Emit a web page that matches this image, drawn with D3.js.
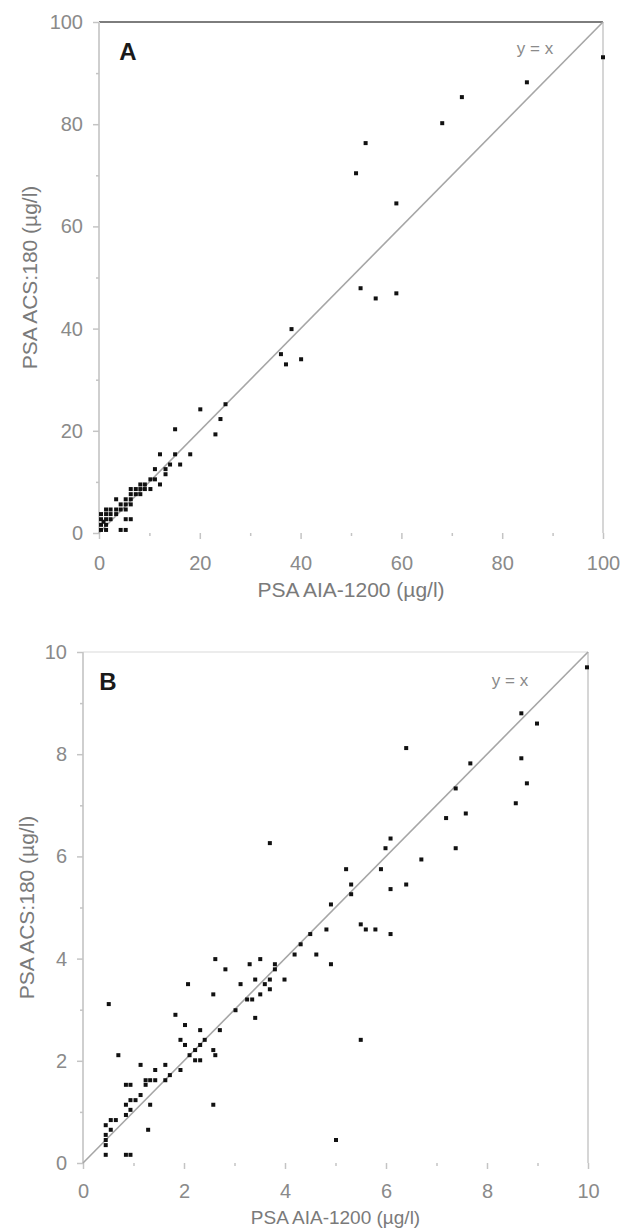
<!DOCTYPE html>
<html>
<head>
<meta charset="utf-8">
<script src="https://cdnjs.cloudflare.com/ajax/libs/d3/7.8.5/d3.min.js"></script>
<style>
    body { margin: 0; background: #fff; }
    svg { display: block; font-family: "Liberation Sans", Arial, sans-serif; }
</style>
</head>
<body>
<svg id="chart" width="620" height="1230"></svg>
<script>
// panel A: PSA 0-100 ug/l
var aX = [100, 84.9, 72.0, 68.1, 52.9, 51.0, 59.0, 51.9, 54.9, 59.0,
    38.2, 36.1, 40.1, 37.1, 25.1, 20.1, 24.1, 23.1, 15.1, 18.1,
    15.1, 12.1, 16.1, 14.1, 11.1, 13.2, 13.2, 10.2, 11.1, 12.1,
    8.2, 6.3, 7.3, 8.2, 9.1, 10.2, 7.3, 3.4, 5.3, 6.3,
    4.3, 5.3, 6.3, 2.3, 3.4, 4.3, 5.3, 0.4, 1.4, 2.3,
    3.4, 0.4, 1.4, 2.3, 5.3, 6.3, 0.4, 1.4, 0.4, 1.4,
    4.3, 5.3, 8.2, 6.3, 9.1, 1.4, 0.9];
var aY = [93.1, 88.2, 85.3, 80.2, 76.3, 70.4, 64.5, 47.9, 45.9, 46.9,
    39.9, 35.0, 34.0, 33.0, 25.2, 24.2, 22.3, 19.3, 20.3, 15.4,
    15.4, 15.4, 13.4, 13.4, 12.5, 12.5, 11.5, 10.5, 10.5, 9.5,
    9.5, 8.6, 8.6, 8.6, 8.6, 8.6, 7.6, 6.6, 6.6, 6.6,
    5.6, 5.6, 5.6, 4.6, 4.6, 4.6, 4.6, 3.7, 3.7, 3.7,
    3.7, 2.7, 2.7, 2.7, 2.7, 2.7, 1.6, 1.6, 0.6, 0.6,
    0.6, 0.6, 7.6, 7.6, 9.5, 4.6, 2.2];

// panel B: same data, 0-10 ug/l
var bX = [9.98, 8.68, 8.99, 6.40, 8.68, 7.67, 8.79, 7.38, 8.57, 7.58,
    7.19, 6.09, 3.70, 5.99, 7.38, 6.70, 5.21, 5.90, 5.31, 6.40,
    6.09, 5.31, 4.91, 5.50, 5.60, 5.79, 6.09, 4.82, 4.50, 4.31,
    4.19, 4.62, 4.91, 2.62, 3.51, 3.30, 3.80, 3.80, 2.82, 3.41,
    3.70, 3.99, 3.12, 3.60, 3.70, 2.08, 2.58, 3.51, 3.25, 3.35,
    0.51, 3.02, 1.83, 3.41, 2.02, 2.32, 2.71, 1.93, 2.41, 5.50,
    2.02, 2.32, 2.22, 2.58, 2.11, 2.62, 2.22, 2.32, 0.70, 1.14,
    1.63, 1.93, 1.43, 1.72, 1.63, 1.24, 1.33, 1.43, 0.94, 0.85,
    1.24, 1.14, 1.04, 0.94, 2.58, 0.85, 1.33, 0.94, 0.85, 0.55,
    0.65, 0.45, 0.55, 1.29, 0.45, 0.45, 5.01, 0.45, 0.45, 0.94,
    0.85];
var bY = [9.70, 8.80, 8.60, 8.12, 7.92, 7.82, 7.43, 7.33, 7.04, 6.84,
    6.75, 6.35, 6.26, 6.16, 6.16, 5.94, 5.75, 5.75, 5.45, 5.45,
    5.36, 5.26, 5.06, 4.67, 4.57, 4.57, 4.48, 4.57, 4.48, 4.28,
    4.08, 4.08, 3.89, 3.99, 3.99, 3.89, 3.89, 3.79, 3.79, 3.59,
    3.59, 3.59, 3.50, 3.50, 3.40, 3.50, 3.30, 3.30, 3.20, 3.20,
    3.11, 2.99, 2.90, 2.84, 2.70, 2.60, 2.60, 2.41, 2.41, 2.41,
    2.31, 2.31, 2.21, 2.21, 2.11, 2.11, 2.01, 2.01, 2.11, 1.92,
    1.92, 1.82, 1.82, 1.72, 1.62, 1.62, 1.62, 1.62, 1.53, 1.53,
    1.53, 1.33, 1.23, 1.23, 1.14, 1.14, 1.14, 1.04, 0.94, 0.84,
    0.84, 0.74, 0.65, 0.65, 0.55, 0.45, 0.45, 0.35, 0.16, 0.16,
    0.16];

var aTicks = [0, 20, 40, 60, 80, 100];
var aMinor = [10, 30, 50, 70, 90];
var bTicks = [0, 2, 4, 6, 8, 10];
var bMinor = [1, 3, 5, 7, 9];

var xTitle = "PSA AIA-1200 (µg/l)";
var yTitle = "PSA ACS:180 (µg/l)";

var svg = d3.select("#chart");

function drawPanel(p) {
    var x = d3.scaleLinear().domain([0, p.max]).range([p.left, p.right]);
    var y = d3.scaleLinear().domain([0, p.max]).range([p.bottom, p.top]);

    var g = svg.append("g");

    // frame (bottom edge is not visible in the figure)
    g.append("line").attr("x1", p.left).attr("x2", p.right).attr("y1", p.top).attr("y2", p.top)
        .attr("stroke", p.topColor).attr("stroke-width", 2);
    g.append("line").attr("x1", p.left).attr("x2", p.left).attr("y1", p.top).attr("y2", p.bottom)
        .attr("stroke", "#cfcfcf").attr("stroke-width", 2);
    g.append("line").attr("x1", p.right).attr("x2", p.right).attr("y1", p.top).attr("y2", p.bottom)
        .attr("stroke", "#d6d6d6").attr("stroke-width", 2);

    // minor ticks
    var gxm = g.append("g").attr("transform", "translate(0," + p.bottom + ")")
        .call(d3.axisBottom(x).tickValues(p.minor).tickSize(3).tickFormat(""));
    var gym = g.append("g").attr("transform", "translate(" + p.left + ",0)")
        .call(d3.axisLeft(y).tickValues(p.minor).tickSize(3).tickFormat(""));

    // major ticks + labels
    var gx = g.append("g").attr("transform", "translate(0," + p.bottom + ")")
        .call(d3.axisBottom(x).tickValues(p.ticks).tickSize(6).tickPadding(p.xPad));
    var gy = g.append("g").attr("transform", "translate(" + p.left + ",0)")
        .call(d3.axisLeft(y).tickValues(p.ticks).tickSize(6).tickPadding(10));

    [gxm, gym, gx, gy].forEach(function (a) {
        a.select("path.domain").remove();
        a.selectAll("line").attr("stroke", "#c4c4c4").attr("stroke-width", 1.5);
        a.selectAll("text").attr("fill", "#8a8a8a").style("font-size", "20px")
            .style("font-family", "'Liberation Sans', Arial, sans-serif");
    });

    // y = x line
    g.append("line")
        .attr("x1", x(0)).attr("y1", y(0))
        .attr("x2", x(p.max)).attr("y2", y(p.max))
        .attr("stroke", "#a6a6a6").attr("stroke-width", 1.6);

    // points
    g.selectAll("rect.pt")
        .data(d3.range(p.xs.length))
        .enter().append("rect")
        .attr("class", "pt")
        .attr("x", function (i) { return x(p.xs[i]) - 2; })
        .attr("y", function (i) { return y(p.ys[i]) - 2; })
        .attr("width", 4)
        .attr("height", 4)
        .attr("fill", "#111");

    // panel letter and y=x note
    g.append("text").attr("x", p.left + p.letterDx).attr("y", p.top + 30).attr("dy", "0.35em")
        .attr("text-anchor", "middle").attr("fill", "#1a1a1a")
        .style("font-size", "24px").style("font-weight", "bold")
        .text(p.letter);
    g.append("text").attr("x", p.right - p.noteDx).attr("y", p.top + p.noteDy).attr("dy", "0.35em")
        .attr("text-anchor", "middle").attr("fill", "#8a8a8a")
        .style("font-size", "17px")
        .text("y = x");

    // axis titles
    g.append("text").attr("x", (p.left + p.right) / 2).attr("y", p.bottom + p.titleDy).attr("dy", "0.35em")
        .attr("text-anchor", "middle").attr("fill", "#7a7a7a")
        .style("font-size", p.titleSize)
        .text(xTitle);
    g.append("text")
        .attr("transform", "translate(" + p.yTitleX + "," + ((p.top + p.bottom) / 2) + ") rotate(-90)")
        .attr("dy", "0.35em")
        .attr("text-anchor", "middle").attr("fill", "#7a7a7a")
        .style("font-size", "21px")
        .text(yTitle);
}

drawPanel({
    max: 100, left: 99, right: 603, top: 22, bottom: 533,
    ticks: aTicks, minor: aMinor, xs: aX, ys: aY,
    topColor: "#7d7d7d", xPad: 17, letter: "A", letterDx: 29,
    noteDx: 68, noteDy: 26, titleDy: 57, titleSize: "21px", yTitleX: 30
});

drawPanel({
    max: 10, left: 83, right: 588, top: 652, bottom: 1163,
    ticks: bTicks, minor: bMinor, xs: bX, ys: bY,
    topColor: "#ececec", xPad: 15, letter: "B", letterDx: 25,
    noteDx: 78, noteDy: 28, titleDy: 54, titleSize: "19px", yTitleX: 27
});
</script>
</body>
</html>
